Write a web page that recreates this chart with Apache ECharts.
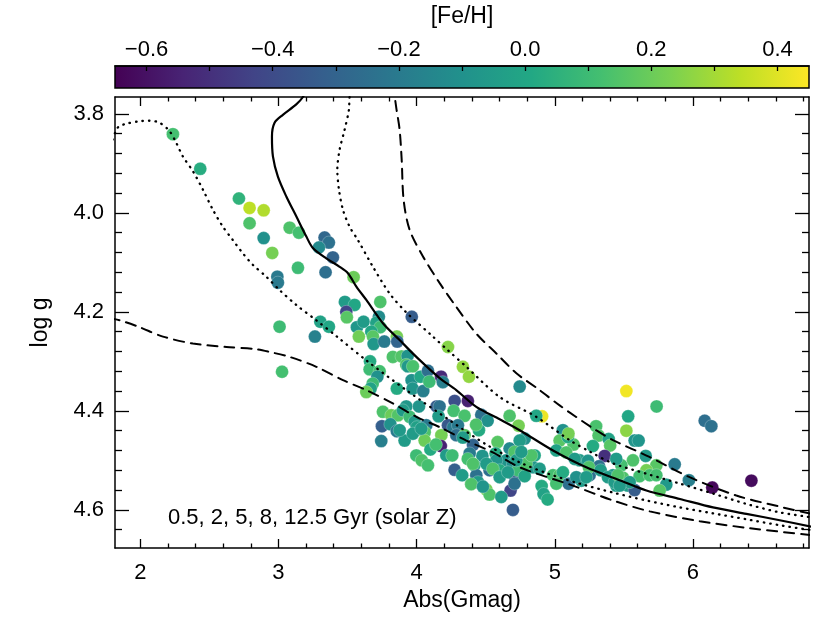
<!DOCTYPE html>
<html>
<head>
<meta charset="utf-8">
<script src="https://cdn.jsdelivr.net/npm/echarts@6/dist/echarts.min.js"></script>
<style>
  html, body { margin: 0; padding: 0; background: #fff; }
  #chart { width: 830px; height: 623px; }
</style>
</head>
<body>
<div id="chart"></div>
<script>
// star sample: absolute G magnitude, surface gravity, metallicity
const absG = [2.236,2.434,2.714,2.791,2.893,2.791,2.893,3.081,3.148,2.955,3.334,3.365,3.293,3.394,3.141,3.341,3.544,2.992,2.996,3.481,
  3.551,3.491,3.495,3.303,3.365,3.008,3.264,3.568,3.582,3.737,3.616,3.727,3.708,3.737,3.672,3.684,3.689,3.766,3.857,3.860,
  3.965,3.828,3.891,3.935,3.925,3.937,3.973,3.663,3.660,3.732,3.716,3.682,3.667,3.636,3.857,3.964,3.971,4.048,4.029,4.082,
  4.092,4.177,4.190,4.227,4.335,4.379,4.746,3.026,3.756,3.817,3.865,3.925,4.017,3.901,3.949,3.986,4.002,4.070,4.058,4.058,
  3.749,3.810,3.857,3.744,4.145,4.166,4.275,4.371,4.268,4.159,4.347,4.468,4.514,4.179,4.175,4.227,4.265,4.299,4.287,4.347,
  4.335,4.451,4.430,4.408,3.998,4.037,4.082,3.913,3.877,3.973,4.034,4.215,4.258,4.384,4.476,4.586,4.572,4.673,4.908,4.866,
  4.738,4.782,4.673,4.275,4.528,4.649,4.794,4.854,4.706,4.680,4.709,4.505,4.528,4.613,4.697,4.905,4.919,4.948,4.987,5.035,
  5.100,5.059,5.035,5.136,5.011,5.299,5.317,5.390,5.401,5.361,5.518,5.737,5.531,5.518,5.578,5.607,5.658,5.566,5.482,5.735,
  5.868,5.663,5.614,5.687,5.735,5.421,5.493,5.445,5.529,5.578,5.252,5.192,5.807,5.759,5.971,6.085,6.133,6.140,6.423,5.180,
  5.240,5.320,5.247,5.332,5.276,5.059,5.156,5.228,5.095,5.083,5.144,5.445,5.099,4.746,4.709,4.370,4.418,4.577,4.697,4.601,
  4.733,4.842,4.782,5.011,4.432,4.408,4.505,4.444,4.552,4.601,4.661,4.794,4.722,4.830,4.758,4.890,5.385,5.433,5.457,5.542,
  5.470,4.330,4.395,4.480,4.100,4.140];
const logg = [3.841,3.911,3.971,3.990,3.995,4.021,4.051,4.030,4.040,4.081,4.050,4.060,4.070,4.090,4.111,4.120,4.130,4.129,4.141,4.180,
  4.186,4.200,4.211,4.220,4.230,4.230,4.250,4.231,4.250,4.180,4.220,4.210,4.222,4.231,4.240,4.250,4.265,4.260,4.250,4.260,
  4.210,4.291,4.290,4.289,4.307,4.310,4.310,4.300,4.316,4.320,4.331,4.345,4.355,4.362,4.355,4.338,4.355,4.360,4.331,4.319,
  4.341,4.331,4.342,4.271,4.311,4.331,4.351,4.321,4.402,4.409,4.409,4.391,4.391,4.399,4.412,4.422,4.433,4.429,4.443,4.460,
  4.431,4.427,4.441,4.461,4.391,4.391,4.380,4.380,4.400,4.411,4.410,4.408,4.420,4.449,4.471,4.429,4.433,4.429,4.449,4.449,
  4.454,4.439,4.428,4.469,4.490,4.500,4.510,4.460,4.439,4.446,4.436,4.490,4.490,4.486,4.491,4.463,4.486,4.410,4.411,4.410,
  4.430,4.456,4.476,4.519,4.520,4.500,4.517,4.490,4.530,4.561,4.547,4.559,4.569,4.574,4.600,4.552,4.568,4.579,4.530,4.530,
  4.547,4.439,4.460,4.468,4.480,4.431,4.450,4.457,4.470,4.491,4.360,4.391,4.411,4.440,4.460,4.460,4.491,4.500,4.510,4.510,
  4.508,4.520,4.532,4.530,4.530,4.530,4.535,4.551,4.551,4.560,4.530,4.541,4.549,4.561,4.540,4.420,4.431,4.555,4.541,4.500,
  4.501,4.512,4.514,4.520,4.471,4.524,4.534,4.534,4.453,4.484,4.497,4.497,4.446,4.460,4.483,4.497,4.510,4.500,4.507,4.520,
  4.520,4.514,4.532,4.547,4.530,4.507,4.507,4.544,4.517,4.534,4.524,4.507,4.500,4.490,4.483,4.517,4.534,4.544,4.530,4.544,
  4.551,4.530,4.548,4.553,4.478,4.468];
const feh = [0.12,0.03,0.06,0.34,0.32,0.14,-0.10,0.14,0.12,0.22,-0.28,-0.24,-0.13,-0.30,0.10,-0.25,0.20,-0.20,-0.20,-0.05,
  0.00,-0.42,0.16,-0.02,0.00,0.10,-0.17,-0.07,0.21,0.14,-0.05,-0.12,-0.02,0.10,0.00,0.16,-0.07,-0.20,0.22,-0.30,
  -0.33,0.14,0.15,-0.09,0.14,-0.06,0.13,0.02,0.10,0.12,-0.10,0.10,-0.02,0.20,0.02,-0.10,-0.08,-0.18,0.00,-0.25,
  0.10,-0.52,-0.18,0.25,0.27,0.27,-0.13,0.12,0.14,0.20,0.15,-0.07,-0.08,-0.05,0.10,-0.05,-0.03,-0.20,0.14,0.20,
  -0.32,-0.10,-0.20,-0.18,-0.33,-0.24,-0.38,-0.55,0.12,-0.05,0.13,-0.24,-0.10,0.22,-0.55,-0.35,-0.20,-0.20,-0.25,0.16,
  -0.05,0.02,0.14,-0.30,0.10,0.14,0.12,-0.05,-0.06,-0.05,-0.05,-0.05,0.10,-0.20,-0.08,0.16,0.02,0.14,0.42,0.00,
  0.22,-0.10,-0.13,-0.32,-0.25,-0.08,0.02,0.00,-0.33,-0.42,-0.24,0.22,0.14,-0.05,-0.33,0.02,-0.02,0.02,0.12,0.14,
  -0.25,-0.10,0.16,0.14,-0.02,0.13,0.14,-0.02,0.16,-0.50,0.43,0.10,0.00,0.26,-0.08,-0.08,-0.06,0.14,0.12,0.16,
  -0.20,0.22,0.12,0.12,0.12,-0.05,0.14,-0.05,-0.05,-0.33,-0.25,-0.05,-0.06,0.16,-0.18,-0.25,-0.24,-0.63,-0.62,-0.05,
  -0.08,-0.24,0.14,-0.05,0.02,0.02,-0.10,-0.05,0.02,0.14,-0.05,-0.05,0.22,-0.05,0.14,0.12,0.02,-0.08,-0.10,0.02,
  0.10,-0.08,-0.02,0.12,-0.24,0.14,-0.05,-0.05,0.14,-0.05,-0.05,0.14,-0.05,0.14,-0.05,-0.05,-0.05,-0.05,0.14,-0.05,
  -0.05,-0.05,0.14,-0.08,0.02,0.12];

// isochrones, solar Z: [Abs(Gmag), log g]
const iso05 = [[1.778,4.213],[1.850,4.217],[1.995,4.231],[2.164,4.250],[2.381,4.264],[2.623,4.271],[2.827,4.275],[2.936,4.281],
  [3.081,4.291],[3.274,4.311],[3.467,4.338],[3.636,4.358],[3.828,4.385],[3.998,4.412],[4.167,4.433],[4.360,4.460],[4.552,4.484],
  [4.746,4.514],[5.131,4.551],[5.421,4.581],[5.687,4.603],[6.049,4.623],[6.411,4.637],[6.859,4.651]];
const iso2 = [[1.799,3.852],[1.821,3.836],[1.843,3.826],[1.899,3.820],[1.995,3.815],[2.067,3.814],[2.140,3.818],[2.212,3.835],
  [2.261,3.859],[2.308,3.886],[2.381,3.916],[2.453,3.953],[2.526,3.994],[2.598,4.028],[2.670,4.055],[2.743,4.082],[2.815,4.105],
  [2.912,4.129],[3.008,4.156],[3.129,4.186],[3.274,4.217],[3.419,4.249],[3.636,4.298],[3.925,4.358],[4.239,4.419],[4.505,4.468],
  [4.746,4.504],[4.963,4.528],[5.180,4.547],[5.421,4.565],[5.663,4.581],[5.906,4.595],[6.145,4.607],[6.387,4.619],[6.628,4.631],
  [6.859,4.641]];
const iso5 = [[3.226,3.741],[3.177,3.766],[3.129,3.781],[3.032,3.802],[2.972,3.818],[2.953,3.846],[2.960,3.886],[2.996,3.927],
  [3.057,3.967],[3.129,4.007],[3.202,4.048],[3.249,4.071],[3.346,4.092],[3.443,4.109],[3.503,4.122],[3.564,4.149],[3.636,4.176],
  [3.756,4.223],[3.877,4.257],[3.998,4.291],[4.167,4.334],[4.287,4.358],[4.432,4.392],[4.601,4.417],[4.746,4.439],[4.987,4.480],
  [5.228,4.514],[5.469,4.540],[5.663,4.561],[5.906,4.578],[6.145,4.595],[6.387,4.608],[6.628,4.621],[6.859,4.634]];
const iso8 = [[3.537,3.741],[3.515,3.766],[3.510,3.792],[3.479,3.832],[3.443,3.872],[3.426,3.913],[3.438,3.953],[3.467,3.994],
  [3.515,4.028],[3.575,4.055],[3.684,4.109],[3.805,4.163],[3.925,4.201],[4.118,4.250],[4.224,4.277],[4.360,4.311],[4.601,4.372],
  [4.866,4.412],[5.107,4.459],[5.252,4.482],[5.421,4.506],[5.663,4.527],[5.906,4.547],[6.145,4.567],[6.387,4.588],[6.628,4.605],
  [6.859,4.615]];
const iso125 = [[3.819,3.741],[3.841,3.766],[3.855,3.792],[3.877,3.832],[3.892,3.893],[3.906,3.974],[3.949,4.034],[4.046,4.088],
  [4.167,4.142],[4.287,4.190],[4.432,4.244],[4.577,4.284],[4.722,4.324],[4.890,4.358],[5.035,4.389],[5.276,4.435],[5.421,4.459],
  [5.685,4.493],[5.976,4.534],[6.314,4.571],[6.651,4.595],[6.859,4.608]];

// axis ranges and ticks
const xMin = 1.817, xMax = 6.84;
const yMin = 3.766, yMax = 4.677;
const fehMin = -0.65, fehMax = 0.45;
const xMajor = [2, 3, 4, 5, 6];
const xMinor = [2.2,2.4,2.6,2.8,3.2,3.4,3.6,3.8,4.2,4.4,4.6,4.8,5.2,5.4,5.6,5.8,6.2,6.4,6.6,6.8];
const yMajor = [3.8, 4.0, 4.2, 4.4, 4.6];
const yMinor = [3.84,3.88,3.92,3.96,4.04,4.08,4.12,4.16,4.24,4.28,4.32,4.36,4.44,4.48,4.52,4.56,4.64];
const cbLabels = [-0.6, -0.4, -0.2, 0.0, 0.2, 0.4];
const cbTicks = [-0.6,-0.5,-0.4,-0.3,-0.2,-0.1,0.0,0.1,0.2,0.3,0.4];

const viridis = ['#440154','#482475','#414487','#355f8d','#2a788e','#21918c',
  '#22a884','#44bf70','#7ad151','#bddf26','#fde725'];

const font = '"Liberation Sans", Arial, Helvetica, sans-serif';
const black = '#000';

function frameAxis(extra) {
  return Object.assign({
    type: 'value',
    gridIndex: 0,
    axisLine: { show: true, onZero: false, lineStyle: { color: black, width: 1.5 } },
    axisTick: { show: true, inside: true, lineStyle: { color: black, width: 1.3 } },
    axisLabel: { show: false },
    splitLine: { show: false },
    z: 10
  }, extra);
}

let chart = echarts.init(document.getElementById('chart'));

let stars = absG.map(function (g, i) { return [g, logg[i], feh[i]]; });

function isoLine(name, data, type, width) {
  return {
    name: name,
    type: 'line',
    xAxisIndex: 0,
    yAxisIndex: 0,
    data: data,
    showSymbol: false,
    smooth: 0.3,
    clip: true,
    silent: true,
    z: 5,
    lineStyle: { color: black, width: width, type: type, cap: 'round' }
  };
}

let option = {
  animation: false,
  backgroundColor: '#fff',
  textStyle: { fontFamily: font },
  grid: [
    { left: 115, right: 21, top: 97, bottom: 75 },
    { left: 115, right: 21, top: 66, height: 22 }
  ],
  visualMap: {
    show: false,
    type: 'continuous',
    seriesIndex: 0,
    dimension: 2,
    min: fehMin,
    max: fehMax,
    inRange: { color: viridis }
  },
  xAxis: [
    frameAxis({
      position: 'bottom', min: xMin, max: xMax,
      name: 'Abs(Gmag)', nameLocation: 'middle', nameGap: 40,
      nameTextStyle: { fontSize: 23, color: black, fontFamily: font },
      axisTick: { show: true, inside: true, length: 9, customValues: xMajor, lineStyle: { color: black, width: 1.3 } },
      axisLabel: { show: true, customValues: xMajor, margin: 14, fontSize: 22, color: black, fontFamily: font }
    }),
    frameAxis({
      position: 'bottom', min: xMin, max: xMax, axisLine: { show: false },
      axisTick: { show: true, inside: true, length: 4.5, customValues: xMinor, lineStyle: { color: black, width: 1.3 } }
    }),
    frameAxis({
      position: 'top', min: xMin, max: xMax,
      axisTick: { show: true, inside: true, length: 9, customValues: xMajor, lineStyle: { color: black, width: 1.3 } }
    }),
    frameAxis({
      position: 'top', min: xMin, max: xMax, axisLine: { show: false },
      axisTick: { show: true, inside: true, length: 4.5, customValues: xMinor, lineStyle: { color: black, width: 1.3 } }
    }),
    {
      type: 'value', gridIndex: 1, position: 'top', min: fehMin, max: fehMax,
      name: '[Fe/H]', nameLocation: 'middle', nameGap: 38,
      nameTextStyle: { fontSize: 23, color: black, fontFamily: font },
      axisLine: { show: true, onZero: false, lineStyle: { color: black, width: 1.5 } },
      axisTick: { show: true, inside: true, length: 5, customValues: cbTicks, lineStyle: { color: black, width: 1.3 } },
      axisLabel: {
        customValues: cbLabels, margin: 5, fontSize: 22, color: black, fontFamily: font,
        formatter: function (v) { return (v < -1e-9 ? '\u2212' : '') + Math.abs(v).toFixed(1); }
      },
      splitLine: { show: false },
      z: 10
    }
  ],
  yAxis: [
    frameAxis({
      position: 'left', min: yMin, max: yMax, inverse: true,
      name: 'log g', nameLocation: 'middle', nameGap: 63,
      nameTextStyle: { fontSize: 23, color: black, fontFamily: font },
      axisTick: { show: true, inside: true, length: 14, customValues: yMajor, lineStyle: { color: black, width: 1.3 } },
      axisLabel: {
        show: true, customValues: yMajor, margin: 11, fontSize: 22, color: black, fontFamily: font,
        formatter: function (v) { return v.toFixed(1); }
      }
    }),
    frameAxis({
      position: 'left', min: yMin, max: yMax, inverse: true, axisLine: { show: false },
      axisTick: { show: true, inside: true, length: 7, customValues: yMinor, lineStyle: { color: black, width: 1.3 } }
    }),
    frameAxis({
      position: 'right', min: yMin, max: yMax, inverse: true,
      axisTick: { show: true, inside: true, length: 14, customValues: yMajor, lineStyle: { color: black, width: 1.3 } }
    }),
    frameAxis({
      position: 'right', min: yMin, max: yMax, inverse: true, axisLine: { show: false },
      axisTick: { show: true, inside: true, length: 7, customValues: yMinor, lineStyle: { color: black, width: 1.3 } }
    }),
    { type: 'value', gridIndex: 1, min: 0, max: 1, show: false }
  ],
  graphic: [{
    type: 'text',
    left: 168,
    top: 507,
    z: 20,
    style: { text: '0.5, 2, 5, 8, 12.5 Gyr (solar Z)', font: '22px ' + font, fill: black }
  }],
  series: [
    {
      name: 'stars',
      type: 'scatter',
      xAxisIndex: 0,
      yAxisIndex: 0,
      data: stars,
      symbol: 'circle',
      symbolSize: 13,
      z: 3,
      itemStyle: { opacity: 1, borderColor: 'rgba(255,255,255,0.5)', borderWidth: 0.5 }
    },
    isoLine('0.5 Gyr', iso05, [10, 7], 2),
    isoLine('2 Gyr', iso2, [0.5, 6], 2.3),
    isoLine('5 Gyr', iso5, 'solid', 2.2),
    isoLine('8 Gyr', iso8, [0.5, 6], 2.3),
    isoLine('12.5 Gyr', iso125, [10, 7], 2),
    {
      name: 'colorbar',
      type: 'custom',
      xAxisIndex: 4,
      yAxisIndex: 4,
      silent: true,
      data: [[fehMin, fehMax]],
      renderItem: function (params, api) {
        let p0 = api.coord([api.value(0), 0]);
        let p1 = api.coord([api.value(1), 1]);
        let stops = viridis.map(function (c, i) { return { offset: i / (viridis.length - 1), color: c }; });
        return {
          type: 'rect',
          shape: { x: p0[0], y: p1[1], width: p1[0] - p0[0], height: p0[1] - p1[1] },
          style: { fill: new echarts.graphic.LinearGradient(0, 0, 1, 0, stops), stroke: black, lineWidth: 1.5 }
        };
      }
    }
  ]
};

chart.setOption(option);
</script>
</body>
</html>
